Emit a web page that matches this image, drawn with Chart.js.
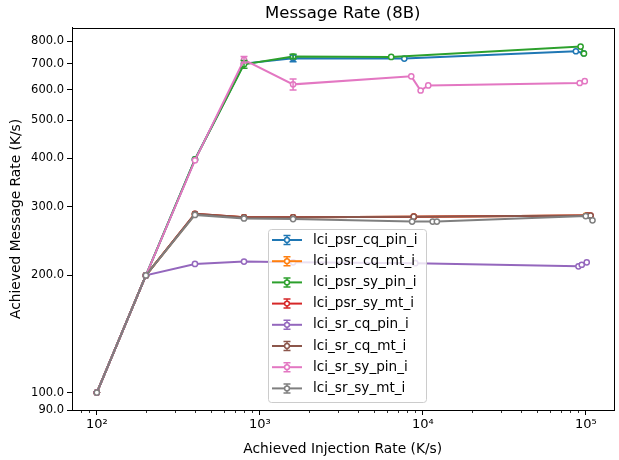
<!DOCTYPE html>
<html>
<head>
<meta charset="utf-8">
<title>Message Rate (8B)</title>
<script src="https://cdn.jsdelivr.net/npm/chart.js@4.4.0/dist/chart.umd.min.js"></script>
<style>
    body { margin: 0; background: #ffffff; }
    #wrap { width: 619px; height: 460px; position: relative; }
</style>
</head>
<body>
<div id="wrap"><canvas id="rateChart"></canvas></div>
<script>
// 系列名称和颜色 (matplotlib tab10)
const seriesNames = [
    'lci_psr_cq_pin_i', 'lci_psr_cq_mt_i', 'lci_psr_sy_pin_i', 'lci_psr_sy_mt_i',
    'lci_sr_cq_pin_i', 'lci_sr_cq_mt_i', 'lci_sr_sy_pin_i', 'lci_sr_sy_mt_i'
];
const seriesColors = [
    '#1f77b4', '#ff7f0e', '#2ca02c', '#d62728',
    '#9467bd', '#8c564b', '#e377c2', '#7f7f7f'
];

// x: Achieved Injection Rate (K/s), y: Achieved Message Rate (K/s), err: error bar half size
const psrCqPinX = [100, 200, 400, 800, 1600, 7700, 87000, 97000];
const psrCqPinY = [100, 200, 397, 700, 722, 721, 753, 744];
const psrCqPinErr = [0, 0, 0, 0, 14, 0, 0, 0];

const psrCqMtX = [100, 200, 400, 800, 1600, 8800, 100000, 105000];
const psrCqMtY = [100, 200, 287, 282, 282, 283, 285, 285];
const psrCqMtErr = [0, 0, 0, 0, 0, 0, 0, 0];

const psrSyPinX = [100, 200, 400, 800, 1600, 6400, 93000, 97500];
const psrSyPinY = [100, 200, 397, 697, 730, 728, 774, 743];
const psrSyPinErr = [0, 0, 0, 16, 10, 0, 0, 0];

const psrSyMtX = [100, 200, 400, 800, 1600, 8800, 102000, 107000];
const psrSyMtY = [100, 200, 288, 282, 282, 283, 285, 285];
const psrSyMtErr = [0, 0, 0, 0, 0, 0, 0, 0];

const srCqPinX = [100, 200, 400, 800, 1600, 9000, 90200, 94500, 101400];
const srCqPinY = [100, 200, 214, 217, 216, 215, 211, 213, 216];
const srCqPinErr = [0, 0, 0, 0, 0, 0, 0, 0, 0];

const srCqMtX = [100, 200, 400, 800, 1600, 8800, 102000, 107000];
const srCqMtY = [100, 200, 288, 282, 282, 283, 285, 285];
const srCqMtErr = [0, 0, 0, 0, 0, 0, 0, 0];

const srSyPinX = [100, 200, 400, 800, 1600, 8500, 9700, 10800, 91800, 98600];
const srSyPinY = [100, 200, 395, 716, 619, 649, 597, 615, 624, 631];
const srSyPinErr = [0, 0, 0, 14, 20, 0, 0, 0, 0, 0];

const srSyMtX = [100, 200, 400, 800, 1600, 8600, 11500, 12200, 100000, 110000];
const srSyMtY = [100, 200, 286, 280, 279, 275, 275, 275, 284, 277];
const srSyMtErr = [0, 0, 0, 0, 0, 0, 0, 0, 0, 0];

// 坐标轴刻度
const xTicks = [100, 1000, 10000, 100000];
const xTickLabels = ['10²', '10³', '10⁴', '10⁵'];
const yTicks = [90, 100, 200, 300, 400, 500, 600, 700, 800];

const seriesX = [psrCqPinX, psrCqMtX, psrSyPinX, psrSyMtX, srCqPinX, srCqMtX, srSyPinX, srSyMtX];
const seriesY = [psrCqPinY, psrCqMtY, psrSyPinY, psrSyMtY, srCqPinY, srCqMtY, srSyPinY, srSyMtY];
const seriesErr = [psrCqPinErr, psrCqMtErr, psrSyPinErr, psrSyMtErr, srCqPinErr, srCqMtErr, srSyPinErr, srSyMtErr];

const FONT = 'DejaVu Sans';

// 误差线
const errorBarPlugin = {
    id: 'errorBars',
    afterDatasetsDraw(chart) {
        const ctx = chart.ctx;
        const yScale = chart.scales.y;
        ctx.save();
        chart.data.datasets.forEach((ds, i) => {
            const meta = chart.getDatasetMeta(i);
            ds.errors.forEach((e, j) => {
                if (!e) return;
                const x = meta.data[j].x;
                const v = ds.data[j].y;
                const top = yScale.getPixelForValue(v + e);
                const bot = yScale.getPixelForValue(v - e);
                ctx.strokeStyle = ds.borderColor;
                ctx.lineWidth = 1.5;
                ctx.beginPath();
                ctx.moveTo(x, top); ctx.lineTo(x, bot);
                ctx.moveTo(x - 3.5, top); ctx.lineTo(x + 3.5, top);
                ctx.moveTo(x - 3.5, bot); ctx.lineTo(x + 3.5, bot);
                ctx.stroke();
            });
        });
        ctx.restore();
    }
};

// 边框、次刻度和图例
const framePlugin = {
    id: 'frameAndLegend',
    afterDraw(chart) {
        const ctx = chart.ctx;
        const area = chart.chartArea;
        const xScale = chart.scales.x;
        ctx.save();

        // 四周边框
        ctx.strokeStyle = '#000';
        ctx.lineWidth = 1;
        ctx.strokeRect(Math.round(area.left) + 0.5, Math.round(area.top) + 0.5,
            Math.round(area.right - area.left), Math.round(area.bottom - area.top));

        // x 轴次刻度
        ctx.lineWidth = 0.8;
        ctx.beginPath();
        for (let d = 1; d <= 5; d++) {
            for (let k = 2; k <= 9; k++) {
                const v = k * Math.pow(10, d);
                if (v < xScale.min || v > xScale.max) continue;
                const px = Math.round(xScale.getPixelForValue(v)) + 0.5;
                ctx.moveTo(px, area.bottom);
                ctx.lineTo(px, area.bottom + 3);
            }
        }
        ctx.stroke();

        // 图例
        const boxL = 268, boxT = 229, boxW = 158, boxH = 173;
        ctx.beginPath();
        ctx.roundRect(boxL + 0.5, boxT + 0.5, boxW, boxH, 3);
        ctx.fillStyle = 'rgba(255,255,255,0.8)';
        ctx.fill();
        ctx.strokeStyle = '#cccccc';
        ctx.lineWidth = 1;
        ctx.stroke();

        ctx.font = `13.6px "${FONT}"`;
        ctx.textBaseline = 'middle';
        ctx.textAlign = 'left';
        seriesNames.forEach((name, i) => {
            const y = 240 + i * 21.2;
            const c = seriesColors[i];
            ctx.strokeStyle = c;
            ctx.lineWidth = 2;
            ctx.beginPath();
            ctx.moveTo(272, y); ctx.lineTo(302, y);
            ctx.stroke();
            ctx.lineWidth = 1.5;
            ctx.beginPath();
            ctx.moveTo(287, y - 4.5); ctx.lineTo(287, y + 4.5);
            ctx.moveTo(283.5, y - 4.5); ctx.lineTo(290.5, y - 4.5);
            ctx.moveTo(283.5, y + 4.5); ctx.lineTo(290.5, y + 4.5);
            ctx.stroke();
            ctx.beginPath();
            ctx.arc(287, y, 2.4, 0, Math.PI * 2);
            ctx.fillStyle = '#fff';
            ctx.fill();
            ctx.stroke();
            ctx.fillStyle = '#000';
            ctx.fillText(name, 313, y);
        });
        ctx.restore();
    }
};

const datasets = seriesNames.map((name, i) => ({
    label: name,
    data: seriesX[i].map((x, j) => ({ x: x, y: seriesY[i][j] })),
    errors: seriesErr[i],
    borderColor: seriesColors[i],
    backgroundColor: '#ffffff',
    pointBackgroundColor: '#ffffff',
    pointBorderColor: seriesColors[i],
    pointRadius: 2.6,
    pointBorderWidth: 1.5,
    borderWidth: 2,
    tension: 0,
    fill: false,
    order: seriesNames.length - i
}));

new Chart(document.getElementById('rateChart'), {
    type: 'line',
    data: { datasets: datasets },
    plugins: [errorBarPlugin, framePlugin],
    options: {
        responsive: true,
        maintainAspectRatio: false,
        animation: false,
        layout: { padding: { left: 0, right: 2, top: 0, bottom: 0 } },
        plugins: {
            legend: { display: false },
            tooltip: { enabled: false },
            title: {
                display: true,
                fullSize: false,
                text: 'Message Rate (8B)',
                color: '#000',
                font: { family: FONT, size: 16.5, weight: 'normal' },
                padding: { top: 4, bottom: 4 }
            }
        },
        scales: {
            x: {
                type: 'logarithmic',
                min: 70.4,
                max: 148000,
                afterBuildTicks: axis => { axis.ticks = xTicks.map(v => ({ value: v })); },
                afterFit: axis => { axis.height = 50; },
                grid: { drawOnChartArea: false, drawTicks: true, tickLength: 5, color: '#000', tickWidth: 1 },
                border: { display: true, color: '#000', width: 1 },
                ticks: {
                    color: '#000',
                    padding: 2,
                    maxRotation: 0,
                    autoSkip: false,
                    font: { family: FONT, size: 13 },
                    callback: value => xTickLabels[xTicks.indexOf(value)]
                },
                title: {
                    display: true,
                    text: 'Achieved Injection Rate (K/s)',
                    color: '#000',
                    font: { family: FONT, size: 13.8 },
                    padding: { top: 0, bottom: 2 }
                }
            },
            y: {
                type: 'logarithmic',
                min: 90.2,
                max: 865,
                afterBuildTicks: axis => { axis.ticks = yTicks.map(v => ({ value: v })); },
                afterFit: axis => { axis.width = 72; },
                grid: { drawOnChartArea: false, drawTicks: true, tickLength: 5, color: '#000', tickWidth: 1 },
                border: { display: true, color: '#000', width: 1 },
                ticks: {
                    color: '#000',
                    padding: 3,
                    autoSkip: false,
                    font: { family: FONT, size: 11.5 },
                    callback: value => Number(value).toFixed(1)
                },
                title: {
                    display: true,
                    text: 'Achieved Message Rate (K/s)',
                    color: '#000',
                    font: { family: FONT, size: 13.8 },
                    padding: { top: 8, bottom: 0 }
                }
            }
        }
    }
});
</script>
</body>
</html>
